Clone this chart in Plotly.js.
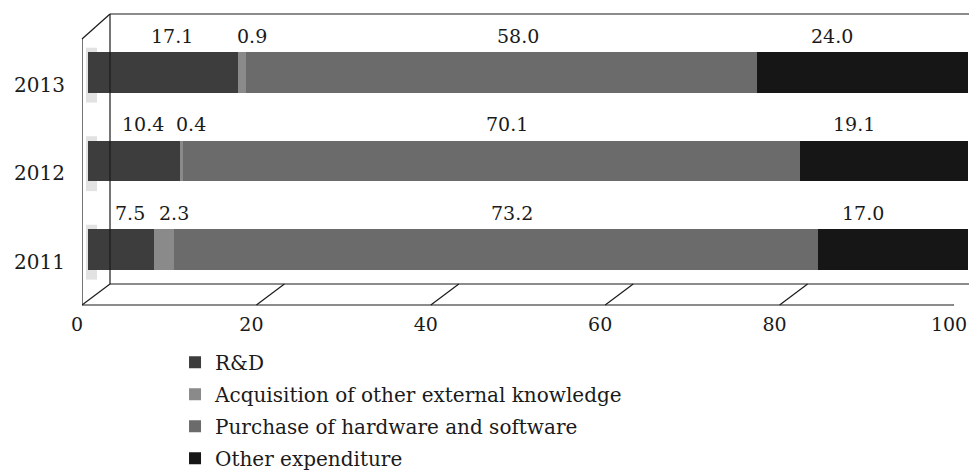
<!DOCTYPE html>
<html>
<head>
<meta charset="utf-8">
<script src="https://cdn.plot.ly/plotly-3.0.1.min.js"></script>
<style>html,body{margin:0;padding:0;background:#fff;}#chart{width:969px;height:472px;}</style>
</head>
<body>
<div id="chart"></div>
<script>
// ---- data ----
const years = ['2011', '2012', '2013'];
const seriesNames = ['R&D', 'Acquisition of other external knowledge', 'Purchase of hardware and software', 'Other expenditure'];
const rd = [7.5, 10.4, 17.1];
const acquisition = [2.3, 0.4, 0.9];
const purchase = [73.2, 70.1, 58.0];
const other = [17.0, 19.1, 24.0];
const xTicks = [0, 20, 40, 60, 80, 100];

// ---- styling ----
const colors = ['#3d3d3d', '#8a8a8a', '#6b6b6b', '#161616'];
const labelShift = [9, 10, 16, -30];
const FONT = 'DejaVu Serif, serif';

const values = [rd, acquisition, purchase, other];
const traces = values.map((v, i) => ({
  type: 'bar', orientation: 'h', name: seriesNames[i],
  y: years, x: v, xaxis: 'x2', yaxis: 'y',
  width: 0.463,
  legendgroup: 'g' + i,
  marker: {color: colors[i], line: {width: 0}},
  hoverinfo: 'x+name'
}));

// value labels above bars
const annotations = [];
years.forEach((yr, j) => {
  let cum = 0;
  values.forEach((v, i) => {
    annotations.push({
      xref: 'x2', yref: 'y', x: cum + v[j] / 2, y: j,
      text: v[j].toFixed(1), showarrow: false,
      xshift: labelShift[i], yshift: 37,
      font: {family: FONT, size: 19, color: '#1a1a1a'}
    });
    cum += v[j];
  });
});

// 3D frame lines
const lc = {color: '#1a1a1a', width: 1.2};
const D = 28, H = 21;
const shapes = [];
// soft shadows on the left wall behind each bar
years.forEach((yr, j) => {
  shapes.push({type: 'rect', xref: 'paper', yref: 'y', layer: 'below',
    x0: 4 / 886, x1: 15 / 886, y0: j - 0.34, y1: j + 0.28,
    fillcolor: '#e2e2e2', line: {width: 0}});
});
xTicks.forEach(t => {
  shapes.push({type: 'line', xref: 'x', yref: 'paper', xsizemode: 'pixel', ysizemode: 'pixel',
    xanchor: t, yanchor: 0, x0: 0, x1: D, y0: 0, y1: H, line: lc});
});
// front bottom
shapes.push({type: 'line', xref: 'x', yref: 'paper', x0: 0, x1: 100, y0: 0, y1: 0, line: lc});
// back bottom
shapes.push({type: 'line', xref: 'paper', yref: 'paper', ysizemode: 'pixel', yanchor: 0,
  x0: D / 886, x1: 1.02, y0: H, y1: H, line: lc});
// front left vertical
shapes.push({type: 'line', xref: 'x', yref: 'paper', ysizemode: 'pixel', yanchor: 0,
  x0: 0, x1: 0, y0: 0, y1: 266, line: lc});
// back left vertical
shapes.push({type: 'line', xref: 'paper', yref: 'paper', x0: D / 886, x1: D / 886, y0: H / 291, y1: 1, line: lc});
// back top
shapes.push({type: 'line', xref: 'paper', yref: 'paper', x0: D / 886, x1: 1.02, y0: 1, y1: 1, line: lc});
// top-left diagonal
shapes.push({type: 'line', xref: 'paper', yref: 'paper', x0: 0, x1: D / 886, y0: 266 / 291, y1: 1, line: lc});

const layout = {
  width: 969, height: 472,
  margin: {l: 82, r: 1, t: 14, b: 167, autoexpand: false},
  paper_bgcolor: '#ffffff', plot_bgcolor: 'rgba(0,0,0,0)',
  barmode: 'stack', bargap: 0,
  font: {family: FONT, size: 19, color: '#1a1a1a'},
  xaxis: {domain: [0, 872 / 886], range: [0, 100], tickvals: xTicks, ticktext: xTicks.map(String),
    showgrid: false, zeroline: false, showline: false, ticks: '', ticklabelstandoff: 6,
    ticklabelshift: -5, ticklabeloverflow: 'allow', anchor: 'y',
    tickfont: {family: FONT, size: 19, color: '#1a1a1a'}, fixedrange: true},
  xaxis2: {domain: [6 / 886, 1], range: [0, 100], anchor: 'y', visible: false, fixedrange: true},
  yaxis: {type: 'category', range: [-0.627, 2.661], showgrid: false, zeroline: false, showline: false,
    anchor: 'x', ticks: '', ticklabelstandoff: 16, ticklabelshift: 12,
    tickfont: {family: FONT, size: 20, color: '#1a1a1a'}, fixedrange: true},
  showlegend: true,
  legend: {orientation: 'v', x: 0.105, xanchor: 'left', y: -0.13, yanchor: 'top',
    traceorder: 'grouped', tracegroupgap: 3, itemclick: false,
    font: {family: FONT, size: 20, color: '#1a1a1a'}, bgcolor: 'rgba(0,0,0,0)'},
  shapes: shapes,
  annotations: annotations
};

Plotly.newPlot('chart', traces, layout, {displayModeBar: false, staticPlot: true});
</script>
</body>
</html>
